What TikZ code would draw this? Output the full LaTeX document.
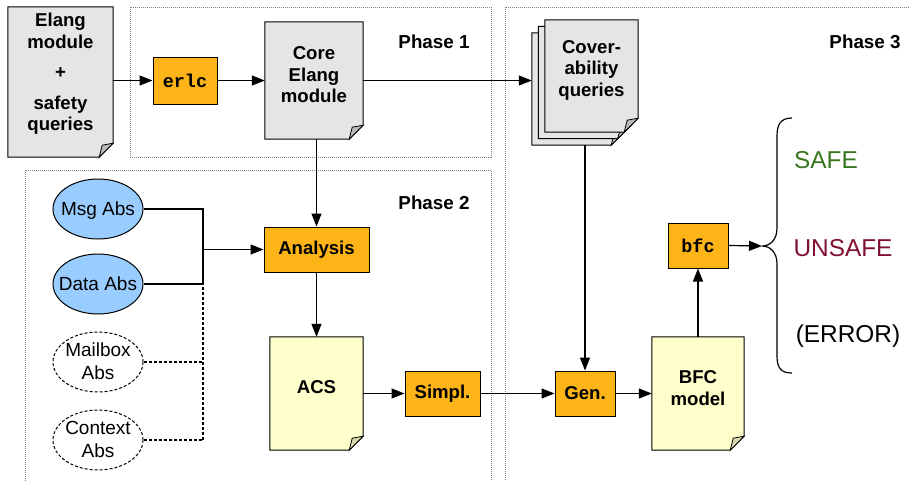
\documentclass[tikz,border=0pt]{standalone}
\usepackage{fontspec}
\setmainfont{Liberation Sans}
\setmonofont{Liberation Mono}
\usetikzlibrary{arrows.meta,shapes.geometric,calc}
\pgfdeclarelayer{background}
\pgfsetlayers{background,main}
\definecolor{orangebox}{RGB}{252,180,24}
\definecolor{docgrey}{RGB}{229,229,229}
\definecolor{foldgrey}{RGB}{185,185,185}
\definecolor{docyellow}{RGB}{255,255,204}
\definecolor{foldyellow}{RGB}{215,215,170}
\definecolor{absblue}{RGB}{153,204,255}
\definecolor{safegreen}{RGB}{56,118,29}
\definecolor{unsafered}{RGB}{128,16,48}
\newcommand\ztext[1]{\raisebox{-0.3em}[0pt][0pt]{\makebox[0pt]{\begin{tabular}{@{}c@{}}#1\end{tabular}}}}
\newcommand\docshape[2]{%
  \filldraw[fill=#2,draw=black,line width=1pt] (#1.north west) -- (#1.north east) -- ([yshift=14pt]#1.south east) -- ([xshift=-14pt]#1.south east) -- (#1.south west) -- cycle;
  \filldraw[fill=fold#2,draw=black,line width=0.8pt] ([yshift=14pt]#1.south east) -- ([xshift=-11pt,yshift=12pt]#1.south east) -- ([xshift=-14pt]#1.south east) -- cycle;}
\colorlet{folddocgrey}{foldgrey}
\colorlet{folddocyellow}{foldyellow}
\tikzset{
 x=1pt,y=-1pt,
 procbox/.style={draw=black,fill=orangebox,line width=1pt,inner sep=0pt,font=\fontsize{18.6}{21.5}\selectfont\bfseries},
 monobox/.style={procbox,font=\fontsize{18.5}{21}\selectfont\ttfamily\bfseries},
 docnode/.style={inner sep=0pt},
 doctext/.style={align=center,inner sep=0pt,font=\fontsize{18.6}{21.5}\selectfont\bfseries},
 absell/.style={ellipse,draw=black,line width=1pt,minimum width=90pt,minimum height=60pt,inner sep=0pt,font=\fontsize{19}{23.5}\selectfont},
 absreal/.style={absell,fill=absblue},
 absopt/.style={absell,dash pattern=on 3pt off 2pt},
 phasebox/.style={draw=gray,line width=0.7pt,dash pattern=on 1pt off 1pt},
 phaselabel/.style={font=\fontsize{18.8}{21.5}\selectfont\bfseries},
 flow/.style={line width=1.2pt,-{Triangle[length=13pt,width=10pt]}},
 link/.style={line width=1.2pt},
 optlink/.style={line width=1.2pt,dash pattern=on 3pt off 2pt},
 result/.style={font=\fontsize{24.4}{28}\selectfont},
}
\begin{document}
\begin{tikzpicture}
\useasboundingbox (0,0) rectangle (910,480);
\clip (0,0) rectangle (910,480);
% documents (shape holders)
\node[docnode,minimum width=105pt,minimum height=150pt] (elang) at (60.5,82) {};
\node[doctext] (elangT) at (60.5,74) {Elang\\module\\[9pt]+\\[9pt]safety\\queries};
\node[docnode,minimum width=98pt,minimum height=117pt] (core) at (314,80.5) {};
\node[doctext] (coreT) at (314,75) {Core\\Elang\\module};
\node[docnode,minimum width=93pt,minimum height=112pt] (cover3) at (578.5,89) {};
\node[docnode,minimum width=93pt,minimum height=112pt] (cover2) at (585,82.5) {};
\node[docnode,minimum width=93pt,minimum height=112pt] (cover) at (591.5,76) {};
\node[doctext] (coverT) at (591.5,70) {Cover-\\ability\\queries};
\node[docnode,minimum width=93pt,minimum height=113pt] (acs) at (316.5,393.5) {};
\node[doctext] (acsT) at (316.5,387) {ACS};
\node[docnode,minimum width=92pt,minimum height=113pt] (bfcm) at (698,393.5) {};
\node[doctext] (bfcmT) at (698,388) {BFC\\model};
% process boxes
\node[monobox,minimum width=64pt,minimum height=47pt] (erlc) at (185,80.5) {erlc};
\node[procbox,minimum width=105pt,minimum height=45pt] (analysis) at (316.5,249.5) {Analysis};
\node[procbox,minimum width=75pt,minimum height=45pt] (simpl) at (442.5,393.5) {Simpl.};
\node[procbox,minimum width=60pt,minimum height=45pt] (gen) at (585,393.5) {Gen.};
\node[monobox,minimum width=60pt,minimum height=45pt] (bfc) at (698,245.5) {bfc};
% abstractions
\node[absreal] (msg) at (98,209) {\ztext{Msg Abs}};
\node[absreal] (data) at (98,284) {\ztext{Data Abs}};
\node[absopt] (mail) at (98,362) {\ztext{Mailbox\\Abs}};
\node[absopt] (ctx) at (98,440) {\ztext{Context\\Abs}};
% phase labels
\node[phaselabel] (p1) at (434,42) {Phase 1};
\node[phaselabel] (p2) at (434,203) {Phase 2};
\node[phaselabel] (p3) at (865,42) {Phase 3};
% results
\node[result,text=safegreen] (safe) at (826,160) {SAFE};
\node[result,text=unsafered] (unsafe) at (843,248) {UNSAFE};
\node[result] (error) at (848,336) {(ERROR)};
% background shapes
\begin{pgfonlayer}{background}
\draw[phasebox] (130,7) rectangle (491,157);
\draw[phasebox] (25,170) rectangle (491,495);
\draw[phasebox] (505,7) rectangle (925,495);
\docshape{elang}{docgrey}
\docshape{core}{docgrey}
\docshape{cover3}{docgrey}
\docshape{cover2}{docgrey}
\docshape{cover}{docgrey}
\docshape{acs}{docyellow}
\docshape{bfcm}{docyellow}
\end{pgfonlayer}
% connectors
\coordinate (jx) at (203,0);
\coordinate (bt) at (762,246);
\draw[flow] (elang.east |- erlc.west) -- (erlc.west);
\draw[flow] (erlc.east) -- (core.west |- erlc.east);
\draw[flow] (core.east |- erlc.east) -- (cover3.west |- erlc.east);
\draw[flow] (analysis.north |- core.south) -- (analysis.north);
\draw[link] (msg.east) -| (jx |- data.east) -- (data.east);
\draw[optlink] (mail.east) -- (mail.east -| jx);
\draw[optlink] (ctx.east) -| (jx |- analysis.west);
\draw[flow] (jx |- analysis.west) -- (analysis.west);
\draw[flow] (analysis.south) -- (acs.north -| analysis.south);
\draw[flow] (acs.east |- simpl.west) -- (simpl.west);
\draw[flow] (simpl.east) -- (gen.west);
\draw[flow] (gen.north |- cover3.south) -- (gen.north);
\draw[flow] (gen.east) -- (bfcm.west |- gen.east);
\draw[flow] (bfcm.north) -- (bfc.south);
\draw[flow] (bfc.east) -- (bt);
\draw[link] (792,118) .. controls (781,118) and (777,124) .. (777,136) -- (777,228) .. controls (777,240) and (770,246) .. (bt) .. controls (770,246) and (777,252) .. (777,264) -- (777,356) .. controls (777,368) and (781,373) .. (792,373);
\end{tikzpicture}
\end{document}
